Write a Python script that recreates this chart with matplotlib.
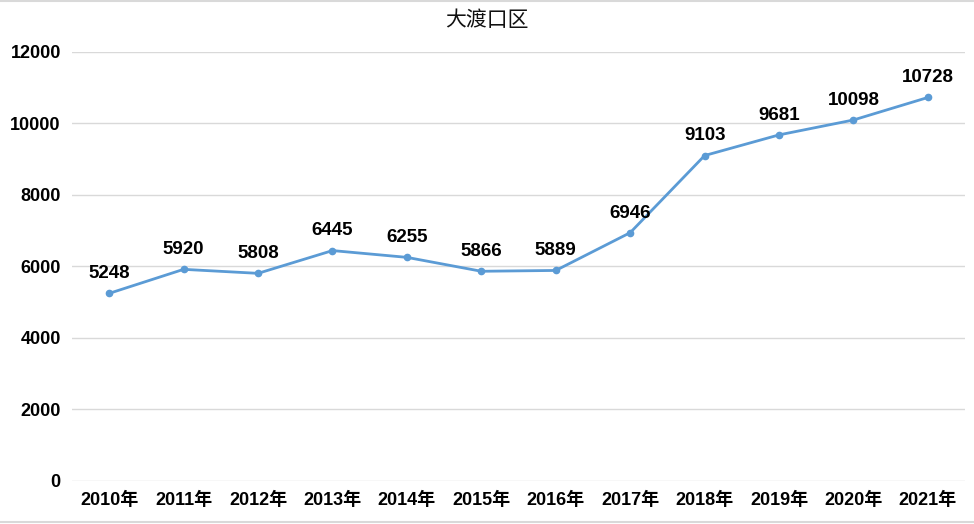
import matplotlib
matplotlib.use("Agg")
import matplotlib.pyplot as plt
from matplotlib.lines import Line2D

years = ["2010年", "2011年", "2012年", "2013年", "2014年", "2015年",
         "2016年", "2017年", "2018年", "2019年", "2020年", "2021年"]
values = [5248, 5920, 5808, 6445, 6255, 5866, 5889, 6946, 9103, 9681, 10098, 10728]
yticks = [0, 2000, 4000, 6000, 8000, 10000, 12000]
title = "大渡口区"

fam = ["Liberation Sans", "Noto Sans CJK SC"]

fig = plt.figure(figsize=(9.74, 5.24), dpi=100)
ax = fig.add_axes([0.0739, 0.0821, 0.917, 0.8187])

x = list(range(len(years)))
ax.plot(x, values, color="#5b9bd5", linewidth=2, marker="o", markersize=4.5, zorder=3)
for xi, v in zip(x, values):
    ax.annotate(str(v), (xi, v), xytext=(0, 8), textcoords="offset points",
                ha="center", va="bottom", fontsize=13.5, fontweight="bold",
                family=fam, color="black")

ax.set_xlim(-0.5, len(years) - 0.5)
ax.set_ylim(0, 12000)
ax.set_yticks(yticks)
ax.set_yticklabels([str(t) for t in yticks])
ax.set_xticks(x)
ax.set_xticklabels(years)
for lab in ax.get_yticklabels() + ax.get_xticklabels():
    lab.set_family(fam)
    lab.set_fontweight("bold")
    lab.set_fontsize(13)
ax.tick_params(axis="both", length=0)
ax.tick_params(axis="y", pad=8)
ax.tick_params(axis="x", pad=8)
ax.grid(axis="y", color="#d9d9d9", linewidth=1)
ax.set_axisbelow(True)
for s in ax.spines.values():
    s.set_visible(False)

fig.text(0.5, 0.962, title, ha="center", va="center", fontsize=15,
         family=["Noto Sans CJK SC"], color="#111111")

fig.lines.append(Line2D([0, 1], [0.999, 0.999], transform=fig.transFigure,
                        color="#d9d9d9", linewidth=1.5))
fig.lines.append(Line2D([0, 1], [0.004, 0.004], transform=fig.transFigure,
                        color="#d9d9d9", linewidth=1.5))

fig.savefig("out.png", dpi=100)
